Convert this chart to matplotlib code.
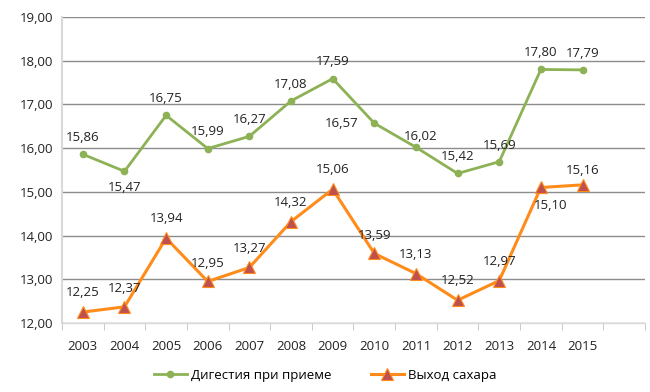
import matplotlib.pyplot as plt
from matplotlib.ticker import FixedLocator, NullFormatter

years = ['2003', '2004', '2005', '2006', '2007', '2008', '2009',
         '2010', '2011', '2012', '2013', '2014', '2015', '']
digestion = [15.86, 15.47, 16.75, 15.99, 16.27, 17.08, 17.59,
             16.57, 16.02, 15.42, 15.69, 17.80, 17.79]
sugar = [12.25, 12.37, 13.94, 12.95, 13.27, 14.32, 15.06,
         13.59, 13.13, 12.52, 12.97, 15.10, 15.16]

# label offsets in points (dx, dy)
dig_off = [(0, 12), (0, -12), (0, 12), (0, 12), (0, 12), (0, 12), (0, 12),
           (-11, 0), (3, 8), (0, 12), (0, 12), (0, 12), (0, 12)]
sug_off = [(0, 14), (0, 13), (0, 14), (0, 13), (0, 14), (0, 14), (0, 14),
           (0, 13), (0, 14), (0, 14), (0, 14), (7, -13), (0, 10)]

plt.rcParams['font.family'] = ['Open Sans', 'DejaVu Sans']

fig = plt.figure(figsize=(6.5, 3.92), dpi=100)
ax = fig.add_axes([62 / 650, (392 - 323) / 392, 583 / 650, 306 / 392])

x = list(range(len(digestion)))
green = '#8DB255'
orange = '#FF8C1A'

ax.plot(x, digestion, color=green, lw=2.0, marker='o', ms=4.5,
        mec=green, mfc=green, label='Дигестия при приеме', zorder=3)
ax.plot(x, sugar, color=orange, lw=2.2, marker='^', ms=8.5,
        mfc='#C0504D', mec=orange, mew=0.8, label='Выход сахара', zorder=3)

for i, v in enumerate(digestion):
    dx, dy = dig_off[i]
    ax.annotate(f'{v:.2f}'.replace('.', ','), (i, v), xytext=(dx, dy),
                textcoords='offset points', ha='right' if dx < 0 else 'center',
                va='center', fontsize=9.5, color='#222222')
for i, v in enumerate(sugar):
    dx, dy = sug_off[i]
    ax.annotate(f'{v:.2f}'.replace('.', ','), (i, v), xytext=(dx, dy),
                textcoords='offset points', ha='center',
                va='center', fontsize=9.5, color='#222222')

ax.set_ylim(12, 19)
ax.set_yticks(range(12, 20))
ax.set_yticklabels([f'{t:.2f}'.replace('.', ',') for t in range(12, 20)],
                   fontsize=9.5, color='#222222')
ax.set_xlim(-0.5, len(years) - 0.5)
ax.set_xticks(range(len(years)))
ax.set_xticklabels(years, fontsize=9.5, color='#222222')
ax.xaxis.set_minor_locator(FixedLocator([i - 0.5 for i in range(len(years) + 1)]))
ax.xaxis.set_minor_formatter(NullFormatter())
ax.tick_params(axis='x', which='major', length=0, pad=12)
ax.tick_params(axis='x', which='minor', length=5, color='#BFBFBF')
ax.tick_params(axis='y', length=0, pad=6)

ax.grid(axis='y', color='#8C8C8C', lw=1.0)
ax.set_axisbelow(True)
for s in ['top', 'right']:
    ax.spines[s].set_visible(False)
ax.spines['left'].set_color('#D9D9D9')
ax.spines['left'].set_linewidth(1.5)
ax.spines['bottom'].set_color('#D9D9D9')
ax.spines['bottom'].set_linewidth(1.0)

fig.legend(loc='center', bbox_to_anchor=(0.5, 1 - 375 / 392), ncol=2,
           frameon=False, fontsize=9.5, handlelength=2.5, columnspacing=3.0,
           handletextpad=0.3)

fig.savefig('out.png', dpi=100)
